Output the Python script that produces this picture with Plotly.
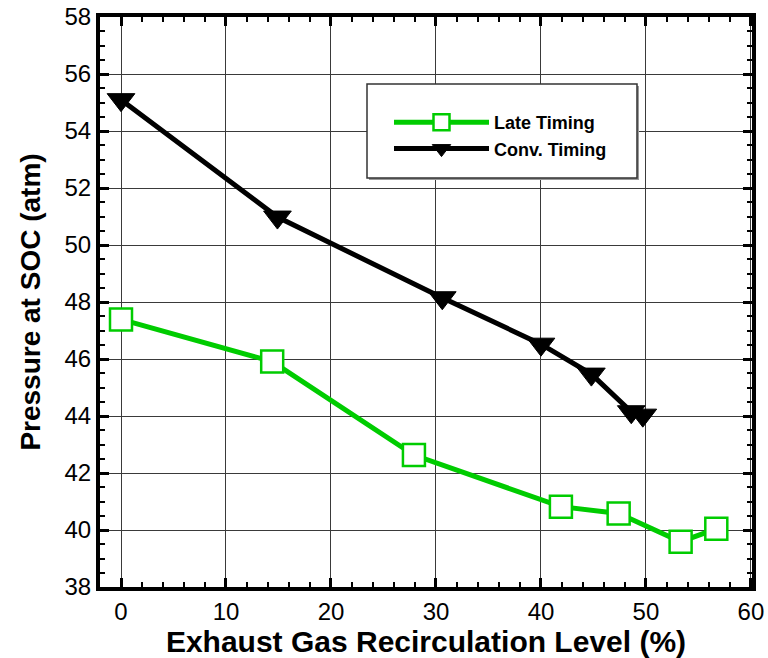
import plotly.graph_objects as go

late_x = [0.0, 14.4, 27.9, 41.9, 47.4, 53.3, 56.7]
late_y = [47.39, 45.91, 42.63, 40.82, 40.58, 39.59, 40.04]
conv_x = [0.0, 14.9, 30.6, 40.0, 44.8, 48.6, 49.7]
conv_y = [55.1, 50.98, 48.15, 46.52, 45.47, 44.15, 44.03]

x_ticks = [0, 10, 20, 30, 40, 50, 60]
y_ticks = [38, 40, 42, 44, 46, 48, 50, 52, 54, 56, 58]

FONT = "Liberation Sans, Arial, sans-serif"
GREEN = "#00CC00"

fig = go.Figure()
fig.add_trace(go.Scatter(
    x=late_x, y=late_y, name="Late Timing", mode="lines+markers",
    line=dict(color=GREEN, width=5),
    marker=dict(symbol="square", size=22, color="white",
                line=dict(color=GREEN, width=2.5)),
))
fig.add_trace(go.Scatter(
    x=conv_x, y=conv_y, name="Conv. Timing", mode="lines+markers",
    line=dict(color="black", width=5),
    marker=dict(symbol="triangle-down", size=24, color="black",
                line=dict(color="black", width=1)),
))

axis_common = dict(
    showline=True, linewidth=4, linecolor="black", mirror="allticks",
    ticks="inside", ticklen=9, tickwidth=2.5, tickcolor="black",
    showgrid=True, gridcolor="#3a3a3a", gridwidth=1,
    zeroline=False, automargin=False,
    tickfont=dict(family=FONT, size=24, color="black"),
)

fig.update_xaxes(
    range=[-2, 60.1], tickvals=x_ticks, ticktext=[str(v) for v in x_ticks],
    minor=dict(dtick=2, tick0=0, ticks="inside", ticklen=5, tickwidth=1.5,
               tickcolor="black", showgrid=False),
    title=dict(text="<b>Exhaust Gas Recirculation Level (%)</b>",
               font=dict(family=FONT, size=30, color="black"), standoff=4),
    **axis_common,
)
fig.update_yaxes(
    range=[38, 58], tickvals=y_ticks, ticktext=[str(v) for v in y_ticks],
    minor=dict(dtick=0.5, tick0=38, ticks="inside", ticklen=5, tickwidth=1.5,
               tickcolor="black", showgrid=False),
    title=dict(text="<b>Pressure at SOC (atm)</b>",
               font=dict(family=FONT, size=28, color="black"), standoff=17),
    **axis_common,
)

fig.update_layout(
    width=768, height=658,
    margin=dict(l=100, r=16, t=17, b=71),
    paper_bgcolor="white", plot_bgcolor="white",
    showlegend=True,
    shapes=[
        dict(type="rect", xref="paper", yref="paper", layer="above",
             x0=(369 - 100) / 652, x1=(639 - 100) / 652,
             y0=1 - (180 - 17) / 570, y1=1 - (86 - 17) / 570,
             fillcolor="#999999", line=dict(width=0)),
        dict(type="rect", xref="paper", yref="paper", layer="above",
             x0=(367 - 100) / 652, x1=(637 - 100) / 652,
             y0=1 - (178 - 17) / 570, y1=1 - (84 - 17) / 570,
             fillcolor="white", line=dict(color="#333333", width=1.5)),
    ],
    legend=dict(
        x=(389 - 100) / 652, y=1 - (104 - 17) / 570,
        xanchor="left", yanchor="top",
        bgcolor="rgba(0,0,0,0)", borderwidth=0,
        font=dict(family=FONT, size=18, color="black", weight="bold"),
        itemwidth=95, tracegroupgap=0,
    ),
)

fig.write_html(
    "out.html",
    config={"displayModeBar": False},
    post_script="document.body.style.margin='0';document.body.style.overflow='hidden';",
)
